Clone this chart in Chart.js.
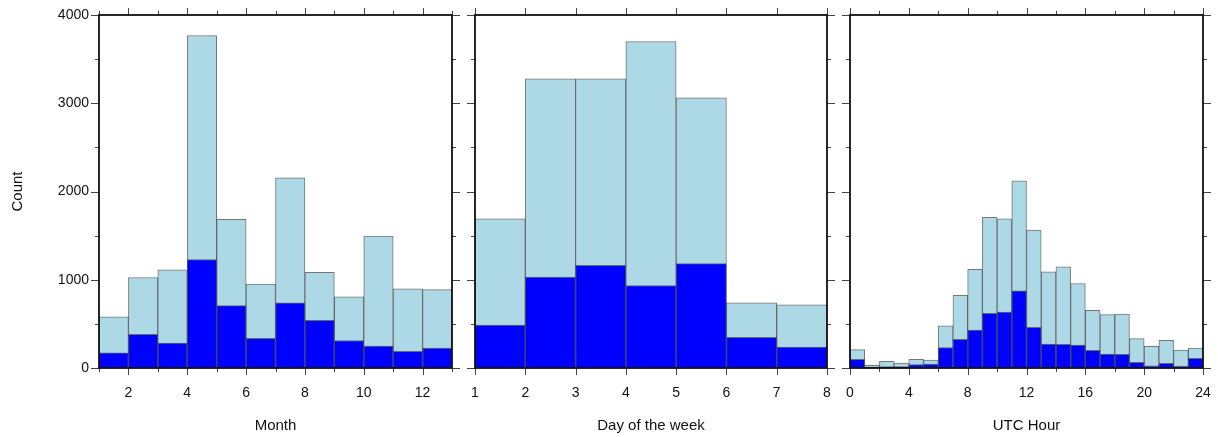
<!DOCTYPE html>
<html>
<head>
<meta charset="utf-8">
<script src="https://cdn.jsdelivr.net/npm/chart.js@4.4.1/dist/chart.umd.min.js"></script>
<style>
  body { margin: 0; background: #fff; width: 1218px; height: 437px; position: relative; overflow: hidden; }
  canvas { position: absolute; top: 0; }
</style>
</head>
<body>
<canvas id="monthChart" width="462" height="437" style="left:0px"></canvas>
<canvas id="dayChart" width="372" height="437" style="left:465px"></canvas>
<canvas id="hourChart" width="373" height="437" style="left:840px"></canvas>
<script>
// Bin starts, counts for all events (total) and for the highlighted subset
const monthBins = [1, 2, 3, 4, 5, 6, 7, 8, 9, 10, 11, 12];
const monthTotal = [581, 1026, 1111, 3768, 1684, 951, 2154, 1083, 806, 1494, 897, 889];
const monthSubset = [171, 381, 282, 1228, 707, 335, 738, 540, 312, 247, 190, 225];
const monthMajor = [2, 4, 6, 8, 10, 12];
const monthMinor = [1, 3, 5, 7, 9, 11, 13];

const dayBins = [1, 2, 3, 4, 5, 6, 7];
const dayTotal = [1689, 3277, 3277, 3700, 3061, 738, 715];
const daySubset = [487, 1031, 1163, 935, 1182, 347, 236];
const dayMajor = [1, 2, 3, 4, 5, 6, 7, 8];
const dayMinor = [];

const hourBins = [0, 1, 2, 3, 4, 5, 6, 7, 8, 9, 10, 11, 12, 13, 14, 15, 16, 17, 18, 19, 20, 21, 22, 23];
const hourTotal = [208, 30, 75, 57, 98, 91, 479, 823, 1117, 1706, 1691, 2121, 1562, 1091, 1147, 958, 653, 604, 611, 332, 245, 313, 204, 226];
const hourSubset = [98, 11, 15, 15, 38, 45, 230, 325, 430, 619, 634, 875, 460, 272, 268, 260, 200, 158, 155, 64, 26, 53, 23, 109];
const hourMajor = [0, 4, 8, 12, 16, 20, 24];
const hourMinor = [2, 6, 10, 14, 18, 22];

const countMajor = [0, 1000, 2000, 3000, 4000];
const countMinor = [500, 1500, 2500, 3500];

Chart.defaults.font.family = '"Liberation Sans", Arial, Helvetica, sans-serif';
Chart.defaults.font.size = 14;
Chart.defaults.color = '#111';

// Box around the plot area with outward tick marks on all four sides
const frameTicks = {
  id: 'frameTicks',
  afterDraw(chart, args, opts) {
    const { ctx, chartArea: a, scales: { x, y } } = chart;
    ctx.save();
    ctx.strokeStyle = '#444';
    ctx.lineWidth = 1;
    ctx.beginPath();
    const xMark = (v, len) => {
      const px = Math.round(x.getPixelForValue(v)) + 0.5;
      ctx.moveTo(px, a.bottom); ctx.lineTo(px, a.bottom + len);
      ctx.moveTo(px, a.top); ctx.lineTo(px, a.top - len);
    };
    const yMark = (v, len) => {
      const py = Math.round(y.getPixelForValue(v)) + 0.5;
      ctx.moveTo(a.left, py); ctx.lineTo(a.left - len, py);
      ctx.moveTo(a.right, py); ctx.lineTo(a.right + len, py);
    };
    opts.major.forEach(v => xMark(v, 7));
    opts.minor.forEach(v => xMark(v, 4));
    countMajor.forEach(v => yMark(v, 8));
    countMinor.forEach(v => yMark(v, 4));
    ctx.stroke();
    ctx.strokeStyle = '#111';
    ctx.lineWidth = 1.8;
    ctx.strokeRect(a.left, a.top, a.right - a.left, a.bottom - a.top);
    ctx.restore();
  }
};

function histogram(id, bins, total, subset, major, minor, xMin, xMax, title, showCount) {
  const toPoints = vals => vals.map((v, i) => ({ x: bins[i] + 0.5, y: v }));
  const barStyle = {
    barPercentage: 1,
    categoryPercentage: 1,
    grouped: false,
    borderWidth: 1,
    borderColor: 'rgba(60,60,60,0.7)',
    borderSkipped: false
  };
  return new Chart(document.getElementById(id), {
    type: 'bar',
    data: {
      datasets: [
        Object.assign({ label: 'Subset', data: toPoints(subset), backgroundColor: '#0000ff', order: 0 }, barStyle),
        Object.assign({ label: 'Total', data: toPoints(total), backgroundColor: '#add8e6', order: 1 }, barStyle)
      ]
    },
    options: {
      responsive: false,
      animation: false,
      layout: { padding: { top: 15, right: 10, bottom: 0, left: showCount ? 0 : 10 } },
      plugins: {
        legend: { display: false },
        tooltip: { enabled: false },
        frameTicks: { major: major, minor: minor }
      },
      scales: {
        x: {
          type: 'linear',
          min: xMin,
          max: xMax,
          offset: false,
          grid: { display: false, drawTicks: false },
          border: { display: false },
          ticks: { padding: 16.5, maxRotation: 0, autoSkip: false },
          afterBuildTicks: s => { s.ticks = major.map(v => ({ value: v })); },
          afterFit: s => { s.height = 69; s.paddingLeft = 0; s.paddingRight = 0; },
          title: { display: true, text: title, font: { size: 15 }, padding: { top: 0, bottom: 2 } }
        },
        y: {
          display: showCount,
          min: 0,
          max: 4000,
          grid: { display: false, drawTicks: false },
          border: { display: false },
          ticks: { padding: 10, callback: v => String(v) },
          afterBuildTicks: s => { s.ticks = countMajor.map(v => ({ value: v })); },
          afterFit: s => { s.width = showCount ? 99 : 0; s.paddingTop = 0; s.paddingBottom = 0; },
          title: { display: true, text: 'Count', font: { size: 15 }, padding: { top: 9, bottom: 0 } }
        }
      }
    },
    plugins: [frameTicks]
  });
}

window.onload = function() {
  histogram('monthChart', monthBins, monthTotal, monthSubset, monthMajor, monthMinor, 1, 13, 'Month', true);
  histogram('dayChart', dayBins, dayTotal, daySubset, dayMajor, dayMinor, 1, 8, 'Day of the week', false);
  histogram('hourChart', hourBins, hourTotal, hourSubset, hourMajor, hourMinor, 0, 24, 'UTC Hour', false);
};
</script>
</body>
</html>
